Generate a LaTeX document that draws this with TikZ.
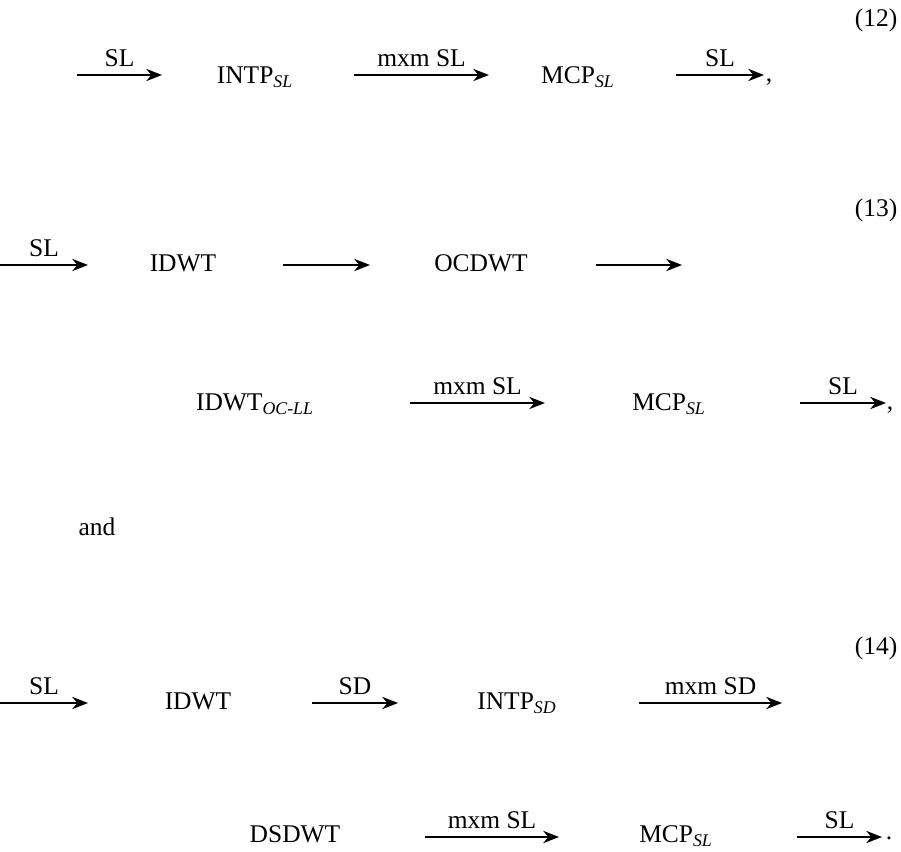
\documentclass[tikz,border=0pt]{standalone}
\usepackage{fontspec}
\setmainfont{Liberation Serif}
\usetikzlibrary{arrows.meta}
\newcommand\lowidx[1]{\textsubscript{\textit{#1}}}
\tikzset{
  term/.style={inner sep=0pt, font=\fontsize{14.5}{17}\selectfont},
  flow/.style={-{Stealth[length=9pt,width=7pt]}, line width=1pt},
  lab/.style={midway, above, inner sep=4pt, font=\fontsize{14.5}{17}\selectfont}
}
\begin{document}
\begin{tikzpicture}[x=0.02cm, y=-0.02cm]
  \useasboundingbox (0,0) rectangle (901,851);

  % equation (12)
  \node[term] (n12) at (876,20) {(12)};
  \coordinate (a1s) at (77,75);  \coordinate (a1e) at (162,75);
  \node[term] (intpSL) at (255,77) {INTP\lowidx{SL}};
  \coordinate (a2s) at (354,75); \coordinate (a2e) at (489,75);
  \node[term] (mcpA) at (578,77) {MCP\lowidx{SL}};
  \coordinate (a3s) at (676,75); \coordinate (a3e) at (764,75);
  \node[term] (c1) at (769,82) {,};
  \draw[flow] (a1s) -- (a1e) node[lab] {SL};
  \draw[flow] (a2s) -- (a2e) node[lab] {mxm SL};
  \draw[flow] (a3s) -- (a3e) node[lab] {SL};

  % equation (13)
  \node[term] (n13) at (876,210) {(13)};
  \coordinate (b1s) at (0,265);  \coordinate (b1e) at (88,265);
  \node[term] (idwtA) at (183,263) {IDWT};
  \coordinate (b2s) at (283,265); \coordinate (b2e) at (370,265);
  \node[term] (ocdwt) at (481,263) {OCDWT};
  \coordinate (b3s) at (596,265); \coordinate (b3e) at (682,265);
  \draw[flow] (b1s) -- (b1e) node[lab] {SL};
  \draw[flow] (b2s) -- (b2e);
  \draw[flow] (b3s) -- (b3e);

  \node[term] (idwtOC) at (255,404) {IDWT\lowidx{OC-LL}};
  \coordinate (b4s) at (410,403); \coordinate (b4e) at (545,403);
  \node[term] (mcpB) at (669,404) {MCP\lowidx{SL}};
  \coordinate (b5s) at (800,403); \coordinate (b5e) at (886,403);
  \node[term] (c2) at (890,410) {,};
  \draw[flow] (b4s) -- (b4e) node[lab] {mxm SL};
  \draw[flow] (b5s) -- (b5e) node[lab] {SL};

  \node[term] (and) at (97,527) {and};

  % equation (14)
  \node[term] (n14) at (876,648) {(14)};
  \coordinate (d1s) at (0,703);  \coordinate (d1e) at (88,703);
  \node[term] (idwtB) at (198,701) {IDWT};
  \coordinate (d2s) at (312,703); \coordinate (d2e) at (398,703);
  \node[term] (intpSD) at (517,703) {INTP\lowidx{SD}};
  \coordinate (d3s) at (639,703); \coordinate (d3e) at (782,703);
  \draw[flow] (d1s) -- (d1e) node[lab] {SL};
  \draw[flow] (d2s) -- (d2e) node[lab] {SD};
  \draw[flow] (d3s) -- (d3e) node[lab] {mxm SD};

  \node[term] (dsdwt) at (295,834) {DSDWT};
  \coordinate (d4s) at (425,837); \coordinate (d4e) at (559,837);
  \node[term] (mcpC) at (676,836) {MCP\lowidx{SL}};
  \coordinate (d5s) at (797,837); \coordinate (d5e) at (882,837);
  \node[term] (p1) at (889,838) {.};
  \draw[flow] (d4s) -- (d4e) node[lab] {mxm SL};
  \draw[flow] (d5s) -- (d5e) node[lab] {SL};
\end{tikzpicture}
\end{document}
